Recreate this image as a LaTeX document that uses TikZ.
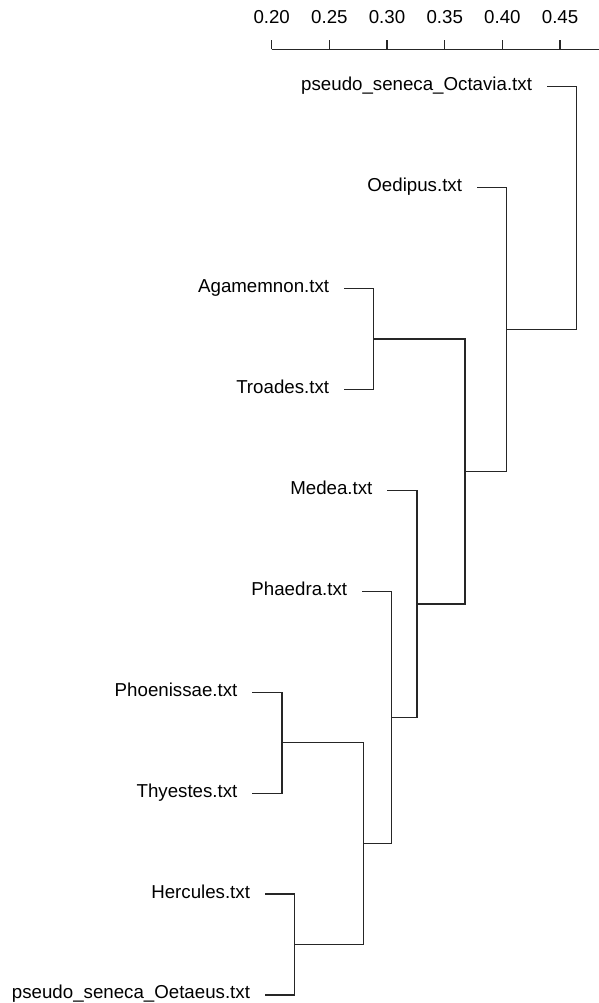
\documentclass[tikz,border=0pt]{standalone}
\usepackage{fontspec}
\setmainfont{Liberation Sans}
\begin{document}
\begin{tikzpicture}[x=1pt,y=-1pt,
  every node/.style={inner sep=0pt,outer sep=0pt,font=\fontsize{18.7}{22}\selectfont},
  leaflabel/.style={anchor=base east},
  ticklabel/.style={anchor=base},
  branch/.style={line width=1.2pt,black!85},
  axisline/.style={line width=1.2pt,black!85}]
\useasboundingbox (0,0) rectangle (599,1003);
% axis
\draw[axisline] (271.7,49.5) -- (599,49.5);
\foreach \v [count=\k from 0] in {0.20,0.25,0.30,0.35,0.40,0.45}{
  \coordinate (t\k) at ({271.7+57.67*\k},49.5);
  \draw[axisline] (t\k) -- ++(0,-9.5);
  \node[ticklabel] (tl\k) at ({271.7+57.67*\k},24) {\v};
}
% leaf tips
\coordinate (l1) at (547.0,86.8);
\coordinate (l2) at (477.0,187.7);
\coordinate (l3) at (344.1,288.6);
\coordinate (l4) at (344.1,389.5);
\coordinate (l5) at (387.4,490.4);
\coordinate (l6) at (362.1,591.3);
\coordinate (l7) at (252.4,692.2);
\coordinate (l8) at (252.4,793.1);
\coordinate (l9) at (265.0,894.0);
\coordinate (l10) at (265.0,994.9);
% labels
\node[leaflabel] (n1) at (532.0,90.8) {pseudo\_seneca\_Octavia.txt};
\node[leaflabel] (n2) at (462.0,191.7) {Oedipus.txt};
\node[leaflabel] (n3) at (329.1,292.6) {Agamemnon.txt};
\node[leaflabel] (n4) at (329.1,393.5) {Troades.txt};
\node[leaflabel] (n5) at (372.4,494.4) {Medea.txt};
\node[leaflabel] (n6) at (347.1,595.3) {Phaedra.txt};
\node[leaflabel] (n7) at (237.4,696.2) {Phoenissae.txt};
\node[leaflabel] (n8) at (237.4,797.1) {Thyestes.txt};
\node[leaflabel] (n9) at (250.0,898.0) {Hercules.txt};
\node[leaflabel] (n10) at (250.0,998.9) {pseudo\_seneca\_Oetaeus.txt};
% merge points
\coordinate (m34) at (373.7,339.05);
\coordinate (m78) at (282.0,742.65);
\coordinate (m910) at (294.6,944.45);
\coordinate (m710) at (363.7,843.55);
\coordinate (m610) at (391.7,717.4);
\coordinate (m510) at (417.0,603.9);
\coordinate (m310) at (465.0,471.5);
\coordinate (m210) at (506.7,329.6);
\coordinate (m110) at (576.6,208.2);
% branches
\draw[branch] (l3) -| (m34) |- (l4);
\draw[branch] (l7) -| (m78) |- (l8);
\draw[branch] (l9) -| (m910) |- (l10);
\draw[branch] (m78) -| (m710) |- (m910);
\draw[branch] (l6) -| (m610) |- (m710);
\draw[branch] (l5) -| (m510) |- (m610);
\draw[branch] (m34) -| (m310) |- (m510);
\draw[branch] (l2) -| (m210) |- (m310);
\draw[branch] (l1) -| (m110) |- (m210);
\end{tikzpicture}
\end{document}
